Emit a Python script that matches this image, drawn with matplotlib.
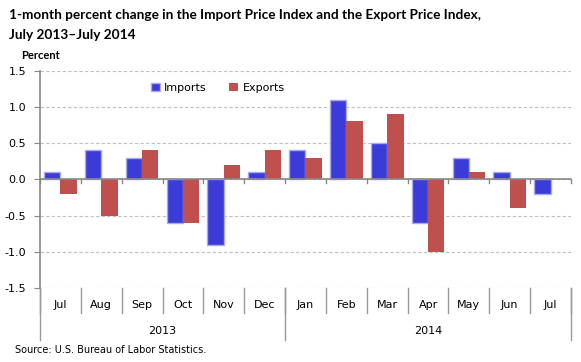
import numpy as np
import matplotlib
matplotlib.use("Agg")
import matplotlib.pyplot as plt
from matplotlib.lines import Line2D

months = ["Jul", "Aug", "Sep", "Oct", "Nov", "Dec",
          "Jan", "Feb", "Mar", "Apr", "May", "Jun", "Jul"]
years = ["2013", "2014"]
year_counts = [6, 7]
imports = [0.1, 0.4, 0.3, -0.6, -0.9, 0.1, 0.4, 1.1, 0.5, -0.6, 0.3, 0.1, -0.2]
exports = [-0.2, -0.5, 0.4, -0.6, 0.2, 0.4, 0.3, 0.8, 0.9, -1.0, 0.1, -0.4, 0.0]
yticks = [-1.5, -1.0, -0.5, 0.0, 0.5, 1.0, 1.5]

plt.rcParams["font.family"] = ["DejaVu Sans"]

fig = plt.figure(figsize=(5.81, 3.62), dpi=100)
ax = fig.add_axes([0.0688, 0.2044, 0.914, 0.6])

x = np.arange(len(months))
w = 0.4
ax.bar(x - w / 2, imports, w, color="#3b3bd9", edgecolor="#a9a9ee",
       linewidth=1.0, label="Imports", zorder=3)
ax.bar(x + w / 2, exports, w, color="#c0504d", linewidth=0,
       label="Exports", zorder=3)

ax.set_xlim(-0.5, len(months) - 0.5)
ax.set_ylim(-1.5, 1.5)
ax.set_yticks(yticks)
ax.set_yticklabels([f"{v:.1f}" for v in yticks])
ax.tick_params(axis="y", length=4, color="#888888", labelsize=8, pad=6)
ax.set_xticks([])
for v in yticks:
    ax.axhline(v, color="#c0c0c0", lw=0.8, ls=(0, (3, 2)), zorder=1)
ax.axhline(0, color="#888888", lw=1.2, zorder=4)
for i in range(len(months) + 1):
    ax.plot([i - 0.5, i - 0.5], [0, -0.05], color="#888888", lw=1.0,
            zorder=4, clip_on=False)

for s in ["top", "right", "bottom"]:
    ax.spines[s].set_visible(False)
ax.spines["left"].set_color("#888888")
ax.spines["left"].set_linewidth(1.2)

# category axis with grouped year labels
trans = ax.get_xaxis_transform()
inner = -0.115
outer = -0.24
for i, m in enumerate(months):
    ax.text(i, -0.078, m, transform=trans, ha="center", va="center", fontsize=8)
for i in range(len(months) + 1):
    ax.add_line(Line2D([i - 0.5, i - 0.5], [0, inner], transform=trans,
                       color="#999999", lw=1.0, clip_on=False))
start = -0.5
for yr, n in zip(years, year_counts):
    ax.add_line(Line2D([start, start], [0, outer], transform=trans,
                       color="#999999", lw=1.0, clip_on=False))
    ax.text(start + n / 2, -0.198, yr, transform=trans, ha="center",
            va="center", fontsize=8)
    start += n
ax.add_line(Line2D([start, start], [0, outer], transform=trans,
                   color="#999999", lw=1.0, clip_on=False))

ax.legend(loc="upper left", bbox_to_anchor=(0.19, 0.99), ncol=2, frameon=False,
          fontsize=8, handlelength=0.8, handleheight=0.8, handletextpad=0.4,
          columnspacing=2.0)

fig.text(0.016, 0.958, "1-month percent change in the Import Price Index and the Export Price Index,",
         fontsize=9.8, fontweight="bold", family="Lato", ha="left", va="center")
fig.text(0.016, 0.903, "July 2013\u2013July 2014", fontsize=9.8,
         fontweight="bold", family="Lato", ha="left", va="center")
fig.text(0.036, 0.848, "Percent", fontsize=8, fontweight="bold",
         family="Lato", ha="left", va="center")
fig.text(0.026, 0.033, "Source: U.S. Bureau of Labor Statistics.", fontsize=7,
         ha="left", va="center")

fig.savefig("out.png", dpi=100)
